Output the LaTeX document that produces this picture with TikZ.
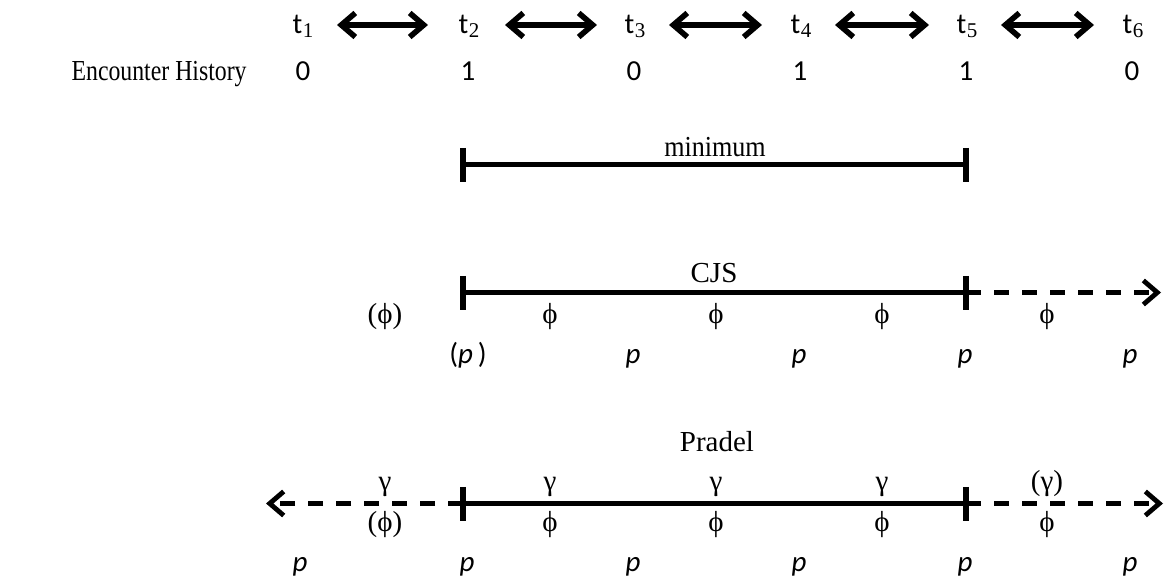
\documentclass[tikz,border=0pt]{standalone}
\usepackage{fontspec}
\setmainfont{Liberation Serif}
\newfontfamily\carlito{Carlito}
\usetikzlibrary{arrows.meta}
\newcommand\tlab[1]{t\kern0.3pt\raisebox{-1.8pt}{\rmfamily\fontsize{10.5}{10.5}\selectfont #1}}
\begin{document}
\begin{tikzpicture}[x=0.5pt,y=-0.5pt,
  sans/.style={font=\carlito\fontsize{14.5}{16}\selectfont, inner sep=0pt, anchor=base},
  serif/.style={font=\fontsize{14.5}{16}\selectfont, inner sep=0pt, anchor=base},
  bar/.style={line width=2.4pt},
  tickmark/.style={line width=2.6pt},
  dashbar/.style={line width=2.4pt, dash pattern=on 7.5pt off 6.5pt},
  barb/.style={-{Straight Barb[length=7pt,width=12pt]}},
  dblarrow/.style={line width=2.8pt, {Straight Barb[length=7pt,width=12pt]}-{Straight Barb[length=7pt,width=12pt]}}
]
\useasboundingbox (0,0) rectangle (1167,581);

% top row: times
\node[sans] (t1) at (303,34) {\tlab{1}};
\node[sans] (t2) at (469,34) {\tlab{2}};
\node[sans] (t3) at (635,34) {\tlab{3}};
\node[sans] (t4) at (801,34) {\tlab{4}};
\node[sans] (t5) at (967,34) {\tlab{5}};
\node[sans] (t6) at (1133,34) {\tlab{6}};
\coordinate (a1l) at (337,25); \coordinate (a1r) at (428,25);
\coordinate (a2l) at (505,25); \coordinate (a2r) at (597,25);
\coordinate (a3l) at (669,25); \coordinate (a3r) at (762,25);
\coordinate (a4l) at (835,25); \coordinate (a4r) at (929,25);
\coordinate (a5l) at (1001,25); \coordinate (a5r) at (1094,25);
\draw[dblarrow] (a1l) -- (a1r);
\draw[dblarrow] (a2l) -- (a2r);
\draw[dblarrow] (a3l) -- (a3r);
\draw[dblarrow] (a4l) -- (a4r);
\draw[dblarrow] (a5l) -- (a5r);

% encounter history
\node[serif, anchor=base east] (eh) at (247,81) {\scalebox{0.82}[1]{Encounter History}};
\node[sans] (h1) at (303,81) {0};
\node[sans] (h2) at (468,81) {1};
\node[sans] (h3) at (634,81) {0};
\node[sans] (h4) at (800,81) {1};
\node[sans] (h5) at (966,81) {1};
\node[sans] (h6) at (1132,81) {0};

% minimum
\node[serif] (minlab) at (715,157) {\scalebox{0.9}[1]{minimum}};
\coordinate (m1) at (463,164.5); \coordinate (m2) at (966,164.5);
\coordinate (m1t) at (463,148); \coordinate (m1b) at (463,182);
\coordinate (m2t) at (966,148); \coordinate (m2b) at (966,182);
\draw[bar] (m1) -- (m2);
\draw[tickmark] (m1t) -- (m1b);
\draw[tickmark] (m2t) -- (m2b);

% CJS
\node[serif] (cjslab) at (714,283) {CJS};
\coordinate (c1) at (463,292.5); \coordinate (c2) at (966,292.5); \coordinate (c3) at (1161,292.5);
\coordinate (c1t) at (463,276); \coordinate (c1b) at (463,310);
\coordinate (c2t) at (966,276); \coordinate (c2b) at (966,310);
\draw[bar] (c1) -- (c2);
\draw[dashbar, barb] (c2) -- (c3);
\draw[tickmark] (c1t) -- (c1b);
\draw[tickmark] (c2t) -- (c2b);
\node[serif] (cf0) at (385,324) {(ϕ)};
\node[serif] (cf1) at (550,324) {ϕ};
\node[serif] (cf2) at (716,324) {ϕ};
\node[serif] (cf3) at (882,324) {ϕ};
\node[serif] (cf4) at (1047,324) {ϕ};
\node[sans] (cp1) at (468,364) {(\textit{p}\,)};
\node[sans] (cp2) at (633,364) {\textit{p}};
\node[sans] (cp3) at (799,364) {\textit{p}};
\node[sans] (cp4) at (965,364) {\textit{p}};
\node[sans] (cp5) at (1130,364) {\textit{p}};

% Pradel
\node[serif] (prlab) at (717,452) {Pradel};
\coordinate (q0) at (266,503.5); \coordinate (q1) at (463,503.5);
\coordinate (q2) at (966,503.5); \coordinate (q3) at (1163,503.5);
\coordinate (q1t) at (463,487); \coordinate (q1b) at (463,521);
\coordinate (q2t) at (966,487); \coordinate (q2b) at (966,521);
\draw[dashbar, barb] (q1) -- (q0);
\draw[bar] (q1) -- (q2);
\draw[dashbar, barb] (q2) -- (q3);
\draw[tickmark] (q1t) -- (q1b);
\draw[tickmark] (q2t) -- (q2b);
\node[serif] (pg0) at (385,491) {γ};
\node[serif] (pg1) at (550,491) {γ};
\node[serif] (pg2) at (716,491) {γ};
\node[serif] (pg3) at (882,491) {γ};
\node[serif] (pg4) at (1047,491) {(γ)};
\node[serif] (pf0) at (385,532) {(ϕ)};
\node[serif] (pf1) at (550,532) {ϕ};
\node[serif] (pf2) at (716,532) {ϕ};
\node[serif] (pf3) at (882,532) {ϕ};
\node[serif] (pf4) at (1047,532) {ϕ};
\node[sans] (pp0) at (300,572) {\textit{p}};
\node[sans] (pp1) at (467,572) {\textit{p}};
\node[sans] (pp2) at (633,572) {\textit{p}};
\node[sans] (pp3) at (799,572) {\textit{p}};
\node[sans] (pp4) at (965,572) {\textit{p}};
\node[sans] (pp5) at (1130,572) {\textit{p}};
\end{tikzpicture}
\end{document}
